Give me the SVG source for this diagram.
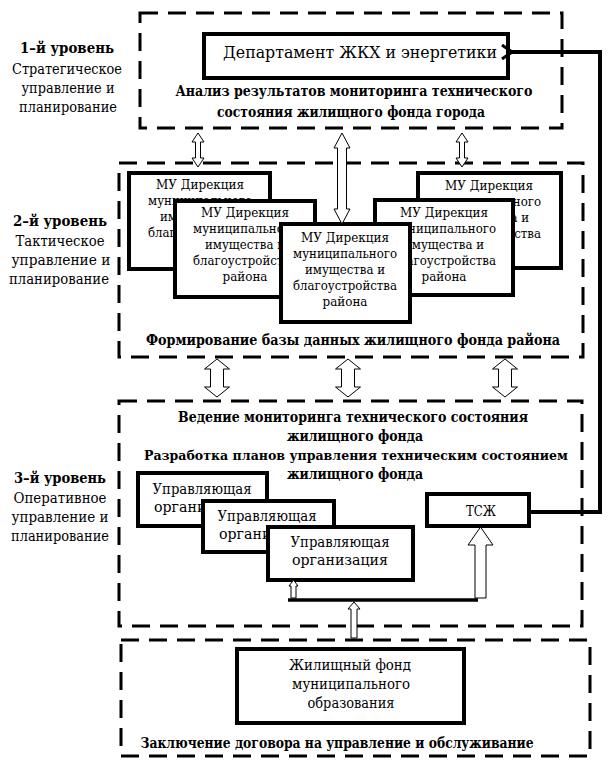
<svg xmlns="http://www.w3.org/2000/svg" width="613" height="781" viewBox="0 0 613 781">
<defs>
<style>
.bg{fill:#fff}
.dash{fill:none;stroke:#000;stroke-width:3;stroke-dasharray:18 10}
.box{fill:#fff;stroke:#000;stroke-width:4}
.arr{fill:#fff;stroke:#000;stroke-width:1}
.ln{fill:none;stroke:#000;stroke-width:4}
.t{font-size:13px;text-anchor:middle}
.tl{font-size:14.5px;text-anchor:middle}
.b{font-size:14px;font-weight:bold;text-anchor:middle}
.big{font-size:17px;text-anchor:middle}
</style>
<marker id="ah" markerUnits="userSpaceOnUse" markerWidth="14" markerHeight="16" refX="2" refY="8" orient="auto">
<path d="M12,1 L2,8 L12,15" fill="none" stroke="#000" stroke-width="3"/>
</marker>
</defs>
<rect class="bg" x="0" y="0" width="613" height="781"/>
<g font-family="DejaVu Serif, Liberation Serif, serif">
<g id="level1">
<rect class="dash" x="140" y="13" width="422" height="115"/>
<text class="b" x="67" y="53" textLength="94" lengthAdjust="spacingAndGlyphs">1–й уровень</text>
<text class="tl" x="67" y="74" textLength="110" lengthAdjust="spacingAndGlyphs">Стратегическое</text>
<text class="tl" x="68" y="93" textLength="93" lengthAdjust="spacingAndGlyphs">управление и</text>
<text class="tl" x="68" y="112" textLength="98" lengthAdjust="spacingAndGlyphs">планирование</text>
<text class="b" x="354" y="96" textLength="357" lengthAdjust="spacingAndGlyphs">Анализ результатов мониторинга технического</text>
<text class="b" x="351" y="117" textLength="268" lengthAdjust="spacingAndGlyphs">состояния жилищного фонда города</text>
</g>
<g id="dept">
<rect class="box" x="204" y="34" width="304" height="44"/>
<text class="big" x="360" y="58" textLength="274" lengthAdjust="spacingAndGlyphs">Департамент ЖКХ и энергетики</text>
</g>

<g id="level2">
<rect class="dash" x="119" y="163" width="464" height="194"/>
<text class="b" x="60" y="226" textLength="94" lengthAdjust="spacingAndGlyphs">2–й уровень</text>
<text class="tl" x="60" y="246" textLength="89" lengthAdjust="spacingAndGlyphs">Тактическое</text>
<text class="tl" x="61" y="265" textLength="99" lengthAdjust="spacingAndGlyphs">управление и</text>
<text class="tl" x="59" y="284" textLength="100" lengthAdjust="spacingAndGlyphs">планирование</text>
<text class="b" x="353" y="345" textLength="414" lengthAdjust="spacingAndGlyphs">Формирование базы данных жилищного фонда района</text>
</g>
<g id="mu1">
<rect class="box" x="129" y="173" width="141" height="96"/>
<text class="t" x="200" y="189" textLength="88" lengthAdjust="spacingAndGlyphs">МУ Дирекция</text>
<text class="t" x="200" y="205" textLength="104" lengthAdjust="spacingAndGlyphs">муниципального</text>
<text class="t" x="200" y="221" textLength="80" lengthAdjust="spacingAndGlyphs">имущества и</text>
<text class="t" x="200" y="237" textLength="104" lengthAdjust="spacingAndGlyphs">благоустройства</text>
<text class="t" x="200" y="253" textLength="45" lengthAdjust="spacingAndGlyphs">района</text>
</g>
<g id="mu5">
<rect class="box" x="418" y="173" width="143" height="95"/>
<text class="t" x="489" y="190" textLength="88" lengthAdjust="spacingAndGlyphs">МУ Дирекция</text>
<text class="t" x="489" y="206" textLength="104" lengthAdjust="spacingAndGlyphs">муниципального</text>
<text class="t" x="489" y="222" textLength="80" lengthAdjust="spacingAndGlyphs">имущества и</text>
<text class="t" x="489" y="238" textLength="104" lengthAdjust="spacingAndGlyphs">благоустройства</text>
<text class="t" x="489" y="254" textLength="45" lengthAdjust="spacingAndGlyphs">района</text>
</g>
<g id="mu2">
<rect class="box" x="175" y="201" width="140" height="96"/>
<text class="t" x="245" y="217" textLength="88" lengthAdjust="spacingAndGlyphs">МУ Дирекция</text>
<text class="t" x="245" y="233" textLength="104" lengthAdjust="spacingAndGlyphs">муниципального</text>
<text class="t" x="245" y="249" textLength="80" lengthAdjust="spacingAndGlyphs">имущества и</text>
<text class="t" x="245" y="265" textLength="104" lengthAdjust="spacingAndGlyphs">благоустройства</text>
<text class="t" x="245" y="281" textLength="45" lengthAdjust="spacingAndGlyphs">района</text>
</g>
<g id="mu4">
<rect class="box" x="375" y="200" width="138" height="95"/>
<text class="t" x="444" y="217" textLength="88" lengthAdjust="spacingAndGlyphs">МУ Дирекция</text>
<text class="t" x="444" y="233" textLength="104" lengthAdjust="spacingAndGlyphs">муниципального</text>
<text class="t" x="444" y="249" textLength="80" lengthAdjust="spacingAndGlyphs">имущества и</text>
<text class="t" x="444" y="265" textLength="104" lengthAdjust="spacingAndGlyphs">благоустройства</text>
<text class="t" x="444" y="281" textLength="45" lengthAdjust="spacingAndGlyphs">района</text>
</g>
<g id="mu3">
<rect class="box" x="281" y="224" width="129" height="98"/>
<text class="t" x="345" y="242" textLength="88" lengthAdjust="spacingAndGlyphs">МУ Дирекция</text>
<text class="t" x="345" y="258" textLength="104" lengthAdjust="spacingAndGlyphs">муниципального</text>
<text class="t" x="345" y="274" textLength="80" lengthAdjust="spacingAndGlyphs">имущества и</text>
<text class="t" x="345" y="290" textLength="104" lengthAdjust="spacingAndGlyphs">благоустройства</text>
<text class="t" x="345" y="306" textLength="45" lengthAdjust="spacingAndGlyphs">района</text>
</g>

<g id="level3">
<rect class="dash" x="119" y="401" width="463" height="225"/>
<text class="b" x="60" y="483" textLength="92" lengthAdjust="spacingAndGlyphs">3–й уровень</text>
<text class="tl" x="60" y="503" textLength="93" lengthAdjust="spacingAndGlyphs">Оперативное</text>
<text class="tl" x="60" y="522" textLength="97" lengthAdjust="spacingAndGlyphs">управление и</text>
<text class="tl" x="60" y="541" textLength="98" lengthAdjust="spacingAndGlyphs">планирование</text>
<text class="b" x="353" y="422" textLength="350" lengthAdjust="spacingAndGlyphs">Ведение мониторинга технического состояния</text>
<text class="b" x="355" y="441" textLength="136" lengthAdjust="spacingAndGlyphs">жилищного фонда</text>
<text class="b" x="356" y="460" style="font-size:12.5px" textLength="424" lengthAdjust="spacingAndGlyphs">Разработка планов управления техническим состоянием</text>
<text class="b" x="355" y="479" textLength="136" lengthAdjust="spacingAndGlyphs">жилищного фонда</text>
</g>
<g id="uo1">
<rect class="box" x="138" y="473" width="129" height="53"/>
<text class="tl" x="202" y="494" textLength="99" lengthAdjust="spacingAndGlyphs">Управляющая</text>
<text class="tl" x="202" y="512" textLength="96" lengthAdjust="spacingAndGlyphs">организация</text>
</g>
<g id="uo2">
<rect class="box" x="203" y="501" width="131" height="51"/>
<text class="tl" x="267" y="521" textLength="99" lengthAdjust="spacingAndGlyphs">Управляющая</text>
<text class="tl" x="267" y="539" textLength="96" lengthAdjust="spacingAndGlyphs">организация</text>
</g>
<g id="uo3">
<rect class="box" x="268" y="527" width="145" height="53"/>
<text class="tl" x="340" y="547" textLength="99" lengthAdjust="spacingAndGlyphs">Управляющая</text>
<text class="tl" x="340" y="565" textLength="96" lengthAdjust="spacingAndGlyphs">организация</text>
</g>
<g id="tszh">
<rect class="box" x="427" y="494" width="102" height="32"/>
<text class="tl" x="481" y="516" textLength="30" lengthAdjust="spacingAndGlyphs">ТСЖ</text>
</g>

<g id="level4">
<rect class="dash" x="121" y="640" width="469" height="116"/>
<text class="b" x="337" y="748" textLength="393" lengthAdjust="spacingAndGlyphs">Заключение договора на управление и обслуживание</text>
</g>
<g id="fund">
<rect class="box" x="237" y="649" width="227" height="74"/>
<text class="tl" x="350" y="670" textLength="122" lengthAdjust="spacingAndGlyphs">Жилищный фонд</text>
<text class="tl" x="351" y="689" textLength="118" lengthAdjust="spacingAndGlyphs">муниципального</text>
<text class="tl" x="351" y="708" textLength="87" lengthAdjust="spacingAndGlyphs">образования</text>
</g>
</g>
<g id="connectors">
<path class="ln" d="M529,512 H600 V52 H512" marker-end="url(#ah)"/>
<path class="arr" d="M198,133 L204,142 L200.5,142 L200.5,158 L204,158 L198,167 L192,158 L195.5,158 L195.5,142 L192,142 Z"/>
<path class="arr" d="M462,133 L468,142 L464.5,142 L464.5,158 L468,158 L462,167 L456,158 L459.5,158 L459.5,142 L456,142 Z"/>
<path class="arr" d="M342,133 L350,148 L346.5,148 L346.5,209 L350,209 L342,224 L334,209 L337.5,209 L337.5,148 L334,148 Z"/>
<path class="arr" d="M217,359 L229.5,369 L223.5,369 L223.5,387 L229.5,387 L217,397 L204.5,387 L210.5,387 L210.5,369 L204.5,369 Z"/>
<path class="arr" d="M348,359 L360.5,369 L354.5,369 L354.5,387 L360.5,387 L348,397 L335.5,387 L341.5,387 L341.5,369 L335.5,369 Z"/>
<path class="arr" d="M505,359 L517.5,369 L511.5,369 L511.5,387 L517.5,387 L505,397 L492.5,387 L498.5,387 L498.5,369 L492.5,369 Z"/>
<path class="ln" style="stroke-width:3.5" d="M288,600 H478"/>
<path class="arr" d="M293.5,580 L298,586 L296,586 L296,598 L291,598 L291,586 L289,586 Z"/>
<path class="arr" d="M480.5,527 L493,545 L486,545 L486,598 L475,598 L475,545 L468,545 Z"/>
<path class="arr" d="M354,602 L360,609 L357,609 L357,638 L351,638 L351,609 L348,609 Z"/>
</g>
</svg>
